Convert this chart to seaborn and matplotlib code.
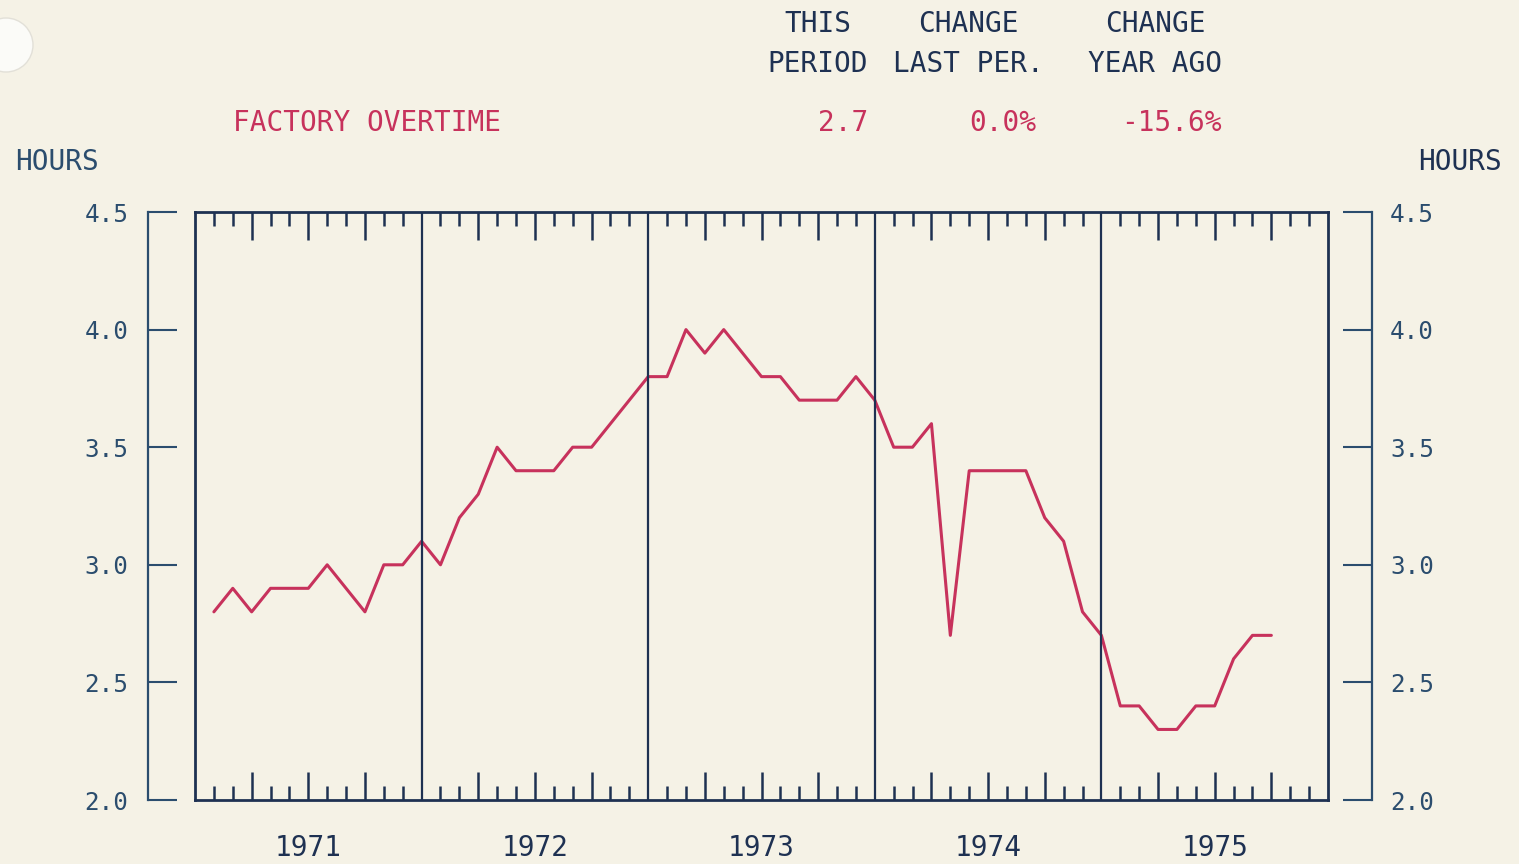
import matplotlib
matplotlib.use('Agg')
import matplotlib.pyplot as plt
from matplotlib.patches import Circle
import seaborn as sns
import numpy as np
import pandas as pd

# monthly factory overtime, Jan 1971 .. Sep 1975
years = ['1971', '1972', '1973', '1974', '1975']
hours_1971 = [2.8, 2.9, 2.8, 2.9, 2.9, 2.9, 3.0, 2.9, 2.8, 3.0, 3.0, 3.1]
hours_1972 = [3.0, 3.2, 3.3, 3.5, 3.4, 3.4, 3.4, 3.5, 3.5, 3.6, 3.7, 3.8]
hours_1973 = [3.8, 4.0, 3.9, 4.0, 3.9, 3.8, 3.8, 3.7, 3.7, 3.7, 3.8, 3.7]
hours_1974 = [3.5, 3.5, 3.6, 2.7, 3.4, 3.4, 3.4, 3.4, 3.2, 3.1, 2.8, 2.7]
hours_1975 = [2.4, 2.4, 2.3, 2.3, 2.4, 2.4, 2.6, 2.7, 2.7]
y_ticks = [2.0, 2.5, 3.0, 3.5, 4.0, 4.5]

header_cols = ['THIS\nPERIOD', 'CHANGE\nLAST PER.', 'CHANGE\nYEAR AGO']
series_name = 'FACTORY OVERTIME'
stats = ['2.7', '0.0%', '-15.6%']

hours = hours_1971 + hours_1972 + hours_1973 + hours_1974 + hours_1975
df = pd.DataFrame({'month': np.arange(1, len(hours) + 1), 'hours': hours})

bg = '#f5f2e6'
navy = '#1e3152'
axis_blue = '#2b4d6e'
red = '#c7325c'

sns.set_style('white')
plt.rcParams['font.family'] = ['DejaVu Sans Mono', 'DejaVu Sans']

W, H = 1519, 864
fig = plt.figure(figsize=(W / 100, H / 100), dpi=100, facecolor=bg)

# main plot box
ax = fig.add_axes([195 / W, 1 - 800 / H, 1133 / W, 588 / H])
ax.set_facecolor(bg)
sns.lineplot(data=df, x='month', y='hours', ax=ax, color=red, lw=2.2)
ax.set_xlim(0, 60)
ax.set_ylim(2.0, 4.5)
ax.set_xlabel('')
ax.set_ylabel('')
for s in ax.spines.values():
    s.set_color(navy)
    s.set_linewidth(2)
for k in range(1, 5):
    ax.axvline(12 * k, color=navy, lw=1.6)

quarters = [m for m in range(60) if m % 3 == 0 and m % 12 != 0]
months = [m for m in range(60) if m % 3 != 0]
ax.set_xticks(quarters)
ax.set_xticks(months, minor=True)
ax.set_yticks([])
ax.tick_params(axis='x', which='both', direction='in', top=True, bottom=True,
               labelbottom=False, color=navy, width=1.8)
ax.tick_params(axis='x', which='major', length=20)
ax.tick_params(axis='x', which='minor', length=10)
for i, yr in enumerate(years):
    ax.text(6 + 12 * i, -0.082, yr, transform=ax.get_xaxis_transform(),
            ha='center', va='center', fontsize=20, color=navy)

# left and right value scales
axl = fig.add_axes([148 / W, 1 - 800 / H, 0.0005, 588 / H])
axr = fig.add_axes([1372 / W - 0.0005, 1 - 800 / H, 0.0005, 588 / H])
for a, side in [(axl, 'left'), (axr, 'right')]:
    a.patch.set_alpha(0)
    for name, s in a.spines.items():
        s.set_visible(name == side)
        s.set_color(axis_blue)
        s.set_linewidth(1.6)
    a.set_ylim(2.0, 4.5)
    a.set_xticks([])
    a.set_yticks(y_ticks)
    a.set_yticklabels(['%.1f' % v for v in y_ticks])
    a.tick_params(axis='y', direction='in', length=21, width=1.5,
                  labelsize=17.5, colors=axis_blue, pad=14)
axl.tick_params(axis='y', left=True, right=False, labelleft=True)
axr.yaxis.tick_right()
axr.tick_params(axis='y', right=True, left=False, pad=13)

# header block
fig.text(15 / W, 1 - 162 / H, 'HOURS', ha='left', va='center', fontsize=20, color=axis_blue)
fig.text(1502 / W, 1 - 162 / H, 'HOURS', ha='right', va='center', fontsize=20, color=navy)
for cx, txt in zip([818, 968, 1155], header_cols):
    fig.text(cx / W, 1 - 44 / H, txt, ha='center', va='center', fontsize=20,
             color=navy, linespacing=1.55)
fig.text(233 / W, 1 - 123 / H, series_name, ha='left', va='center', fontsize=20, color=red)
for rx, txt in zip([868, 1036, 1222], stats):
    fig.text(rx / W, 1 - 123 / H, txt, ha='right', va='center', fontsize=20, color=red)

# punch hole on the scanned sheet
fig.patches.append(Circle((6, H - 45), 27, transform=None, facecolor='#fbfbf8',
                          edgecolor='#e2e0d8', lw=1))

fig.savefig('out.png', dpi=100, facecolor=bg)
